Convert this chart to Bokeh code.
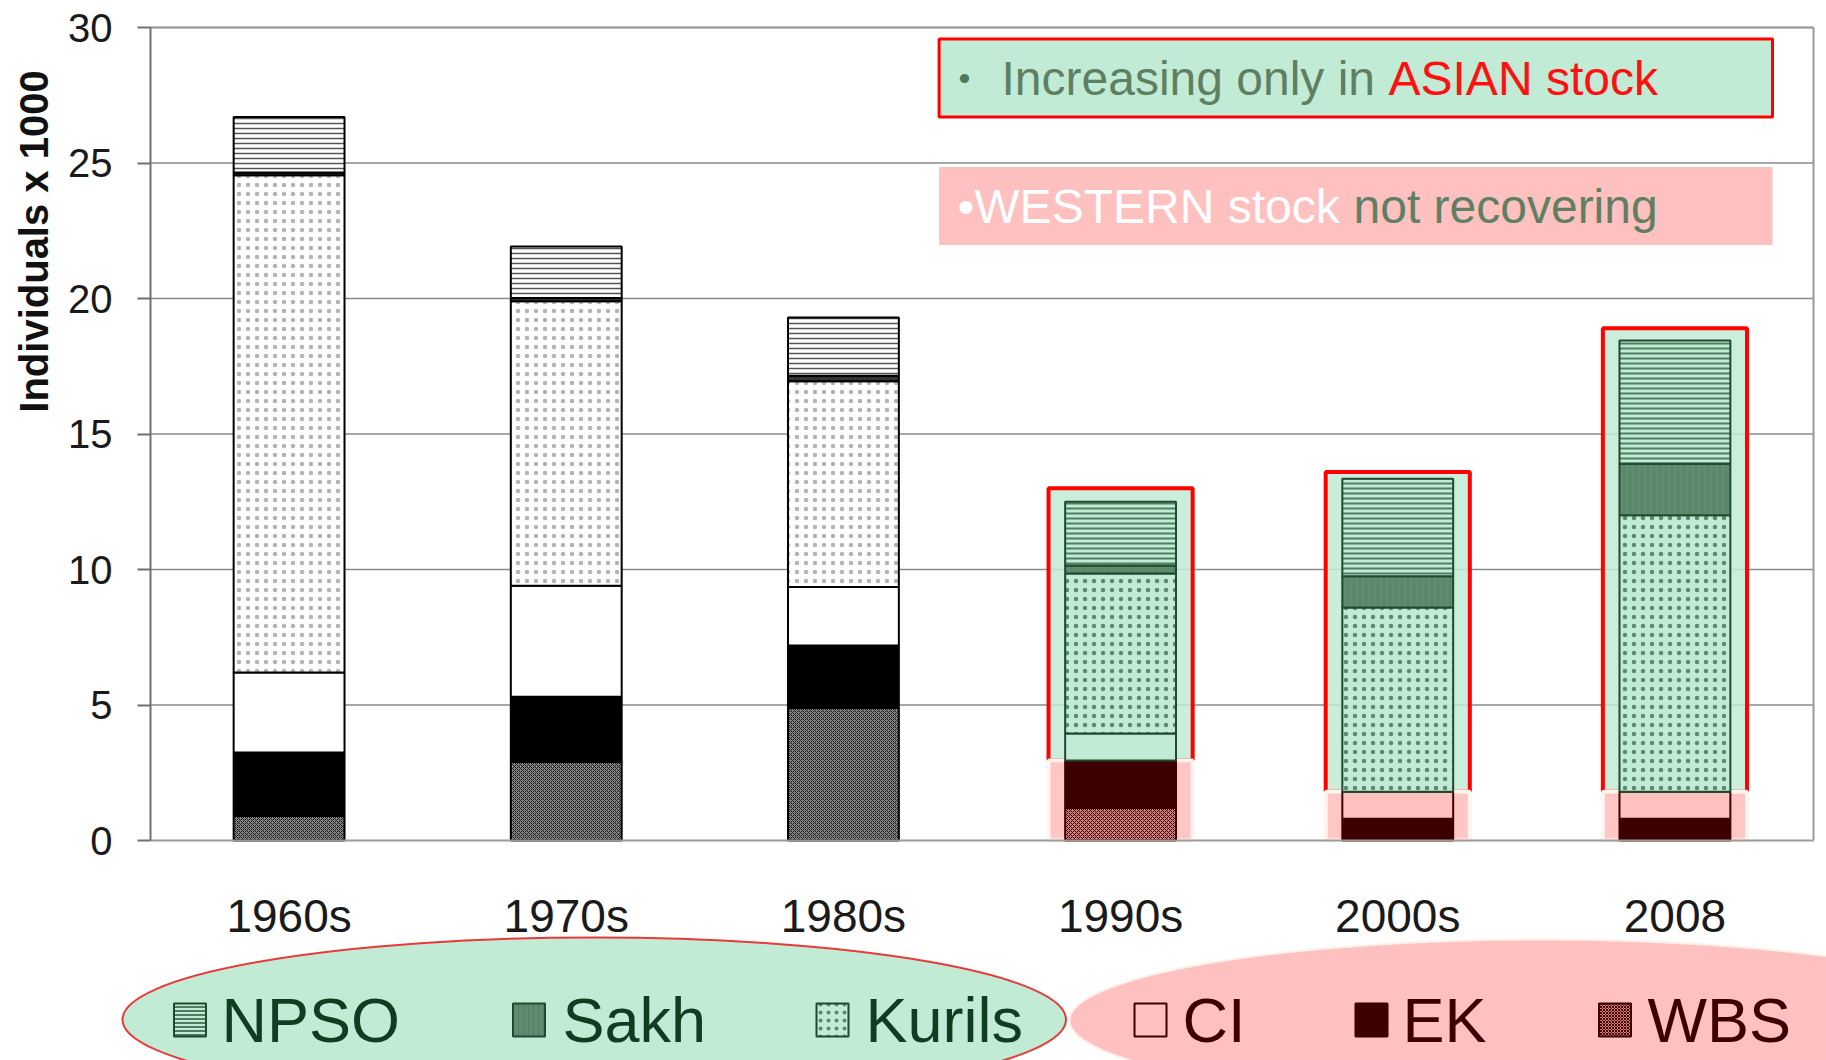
import math
from bokeh.plotting import figure
from bokeh.models import Range1d, ColumnDataSource, Label, FixedTicker
from bokeh.embed import file_html
from bokeh.resources import INLINE
from bokeh.core.properties import value

# ---------------- data (thousands of individuals) ----------------
decades = ["1960s", "1970s", "1980s", "1990s", "2000s", "2008"]
wbs = [0.9, 2.9, 4.9, 1.2, 0.0, 0.0]
ek = [2.35, 2.4, 2.3, 1.75, 0.8, 0.8]
ci = [2.95, 4.1, 2.15, 1.0, 1.0, 1.0]
kurils = [18.35, 10.5, 7.6, 5.9, 6.8, 10.2]
sakh = [0.1, 0.12, 0.2, 0.3, 1.15, 1.9]
npso = [2.05, 1.9, 2.15, 2.35, 3.6, 4.55]

stack_order = ["WBS", "EK", "CI", "Kurils", "Sakh", "NPSO"]   # bottom -> top
series_values = {"WBS": wbs, "EK": ek, "CI": ci, "Kurils": kurils, "Sakh": sakh, "NPSO": npso}

asian_legend = ["NPSO", "Sakh", "Kurils"]
western_legend = ["CI", "EK", "WBS"]

highlight_decades = ["1990s", "2000s", "2008"]
western_box_top = [2.95, 1.8, 1.8]
asian_box_bottom = [2.95, 1.8, 1.8]
asian_box_top = [13.0, 13.6, 18.9]

y_ticks = [0, 5, 10, 15, 20, 25, 30]
y_label = "Individuals x 1000"
note_asian = ["Increasing only in ", "ASIAN stock"]
note_western = ["\u2022WESTERN stock ", "not recovering"]

# ---------------- styles ----------------
FONT = "Liberation Sans"
MINT = "#c2ebd6"
PINK = "#ffc0c0"
MAROON = "#3d0000"
DKGREEN = "#1f4a2e"
RED = "#ff0000"

def st(fill, line, hatch=" ", hcolor="#000000", hscale=6, hweight=1.0):
    return dict(fill=fill, line=line, hatch=hatch, hcolor=hcolor, hscale=hscale, hweight=hweight)

styles = {
    "plain": {
        "NPSO": st("#ffffff", "#000000", "horizontal_line", "#555555", 5, 1.5),
        "Sakh": st("#333333", "#000000"),
        "Kurils": st("#ffffff", "#000000", "dot", "#b4b4b4", 9, 1.0),
        "CI": st("#ffffff", "#000000"),
        "EK": st("#000000", "#000000"),
        "WBS": st("#858585", "#000000", "diagonal_cross", "#1a1a1a", 4, 1.0),
    },
    "green": {
        "NPSO": st(MINT, DKGREEN, "horizontal_line", "#4f7e60", 5, 2.0),
        "Sakh": st("#5f8c6f", DKGREEN, "vertical_line", "#527f63", 6, 1.0),
        "Kurils": st(MINT, DKGREEN, "dot", "#5d8a6c", 9, 1.0),
        "CI": st(MINT, DKGREEN),
        "EK": st(MAROON, DKGREEN),
        "WBS": st(MINT, DKGREEN),
    },
    "pink": {
        "NPSO": st(PINK, MAROON),
        "Sakh": st(PINK, MAROON),
        "Kurils": st(PINK, MAROON),
        "CI": st(PINK, MAROON),
        "EK": st(MAROON, MAROON),
        "WBS": st("#c88080", MAROON, "diagonal_cross", "#4d0000", 4, 1.0),
    },
}

def region(dec, mid):
    if dec not in highlight_decades:
        return "plain"
    j = highlight_decades.index(dec)
    return "green" if mid > western_box_top[j] else "pink"

# ---------------- page geometry (pixels) ----------------
W, H = 1826, 1060
FL, FR, FT, FB = 150, 1813, 27, 840          # chart area edges
NCAT = len(decades)
YMAX = y_ticks[-1]
XW = (FR - FL) / NCAT
YS = (FB - FT) / YMAX

def dx(px):   # pixel -> x data coordinate
    return (px - FL) / XW

def dy(py):   # pixel -> y data coordinate
    return (FB - py) / YS

xpos = {d: i + 0.5 for i, d in enumerate(decades)}

# the frame covers the whole canvas; the axes are pinned at fixed locations
p = figure(width=W, height=H,
           x_range=Range1d(dx(0), dx(W)), y_range=Range1d(dy(H), dy(0)),
           output_backend="svg", toolbar_location=None, min_border=0)
p.background_fill_color = "#ffffff"
p.border_fill_color = "#ffffff"
p.outline_line_color = None
p.xgrid.visible = False
p.ygrid.visible = False

# grid lines and chart box edges
p.segment(x0=0, x1=NCAT, y0=y_ticks[1:], y1=y_ticks[1:], line_color="#8a8a8a", line_width=1.5)
p.segment(x0=[0], x1=[NCAT], y0=[YMAX], y1=[YMAX], line_color="#9a9a9a", line_width=2)
p.segment(x0=[NCAT], x1=[NCAT], y0=[0], y1=[YMAX], line_color="#9a9a9a", line_width=2)

# overlay boxes (behind bars)
hx = [xpos[d] for d in highlight_decades]
p.vbar(x=hx, width=0.52, bottom=asian_box_bottom, top=asian_box_top,
       fill_color=MINT, fill_alpha=0.85, line_color=RED, line_width=4)
p.vbar(x=hx, width=0.52, bottom=0, top=western_box_top,
       fill_color=PINK, fill_alpha=0.9, line_color="#fff4ee", line_width=4)

# stacked bars
cum = [0.0] * NCAT
for name in stack_order:
    vals = series_values[name]
    rows = dict(x=[], bottom=[], top=[], fill=[], line=[], hatch=[], hcolor=[], hscale=[], hweight=[])
    for i, dec in enumerate(decades):
        b = cum[i]
        t = b + vals[i]
        cum[i] = t
        if vals[i] <= 0:
            continue
        s = styles[region(dec, (b + t) / 2)][name]
        rows["x"].append(xpos[dec]); rows["bottom"].append(b); rows["top"].append(t)
        rows["fill"].append(s["fill"]); rows["line"].append(s["line"])
        rows["hatch"].append(s["hatch"]); rows["hcolor"].append(s["hcolor"])
        rows["hscale"].append(s["hscale"]); rows["hweight"].append(s["hweight"])
    src = ColumnDataSource(rows)
    p.vbar(x="x", width=0.40, bottom="bottom", top="top", source=src,
           fill_color="fill", line_color="line", line_width=2,
           hatch_pattern="hatch", hatch_color="hcolor", hatch_scale="hscale",
           hatch_weight="hweight")

# annotation boxes at the top
p.quad(left=[dx(938.6)], right=[dx(1772)], bottom=[dy(116.5)], top=[dy(38.4)],
       fill_color=MINT, line_color=RED, line_width=3)
p.quad(left=[dx(938.6)], right=[dx(1772)], bottom=[dy(244.5)], top=[dy(166.5)],
       fill_color=PINK, line_color=None)

def lab(px, py, text, color, size="48px", **kw):
    p.add_layout(Label(x=dx(px), y=dy(py), text=text, text_color=color, text_font=FONT,
                       text_font_size=size, text_baseline="middle",
                       text_align=kw.pop("align", "left"), **kw))

lab(958, 77, "\u2022", "#4f7a5a", "34px")
lab(1001, 78, note_asian[0], "#5f7f62")
lab(1388, 78, note_asian[1], "#ff1010")
lab(957, 206, note_western[0], "#ffffff")
lab(1353, 206, note_western[1], "#5f7f62")

# y axis title (placed as in the original slide, above the axis middle)
lab(33, 241, y_label, "#111111", "40px", align="center", angle=math.pi / 2,
    text_font_style="bold")

# axes (pinned to the chart area)
p.yaxis.fixed_location = 0
p.yaxis.bounds = (0, YMAX)
p.yaxis.ticker = FixedTicker(ticks=y_ticks)
p.yaxis.major_tick_out = 13
p.yaxis.major_tick_in = 0
p.yaxis.minor_tick_line_color = None
p.yaxis.axis_line_color = "#707070"
p.yaxis.axis_line_width = 2
p.yaxis.major_tick_line_color = "#707070"
p.yaxis.major_tick_line_width = 2
p.yaxis.major_label_text_font = FONT
p.yaxis.major_label_text_font_size = "40px"
p.yaxis.major_label_text_color = "#1a1a1a"
p.yaxis.major_label_standoff = 25

p.xaxis.fixed_location = 0
p.xaxis.bounds = (0, NCAT)
p.xaxis.ticker = FixedTicker(ticks=[xpos[d] for d in decades])
p.xaxis.major_label_overrides = {xpos[d]: d for d in decades}
p.xaxis.major_tick_line_color = None
p.xaxis.minor_tick_line_color = None
p.xaxis.axis_line_color = "#9a9a9a"
p.xaxis.axis_line_width = 2
p.xaxis.major_label_text_font = FONT
p.xaxis.major_label_text_font_size = "46px"
p.xaxis.major_label_text_color = "#1a1a1a"
p.xaxis.major_label_standoff = 43

# ---------------- legend below the axis ----------------
p.ellipse(x=[dx(593.75)], y=[dy(1019)], width=[943.5], height=[164],
          width_units="screen", height_units="screen",
          fill_color=MINT, line_color="#e83a3a", line_width=2)
p.ellipse(x=[dx(1541)], y=[dy(1020)], width=[944], height=[162],
          width_units="screen", height_units="screen",
          fill_color=PINK, line_color="#fff0ea", line_width=2)

swatch_x = [189.5, 528.5, 832, 1150, 1371, 1614.5]
label_x = [221, 562, 865, 1182, 1402, 1647]
legend_y = 1019.5
legend_names = asian_legend + western_legend
for k, name in enumerate(legend_names):
    reg = "green" if name in asian_legend else "pink"
    s = styles[reg][name]
    p.rect(x=[dx(swatch_x[k])], y=[dy(legend_y)], width=32, height=33,
           width_units="screen", height_units="screen",
           fill_color=s["fill"], line_color=s["line"], line_width=2,
           hatch_pattern=s["hatch"], hatch_color=s["hcolor"],
           hatch_scale=max(3, s["hscale"] - 1), hatch_weight=s["hweight"])
    p.text(x=[dx(label_x[k])], y=[dy(legend_y)], text=[name], text_font=value(FONT),
           text_font_size="63px", text_baseline="middle", text_align="left",
           text_color="#0f3d20" if reg == "green" else MAROON)

open("out.html", "w").write(file_html(p, INLINE))
